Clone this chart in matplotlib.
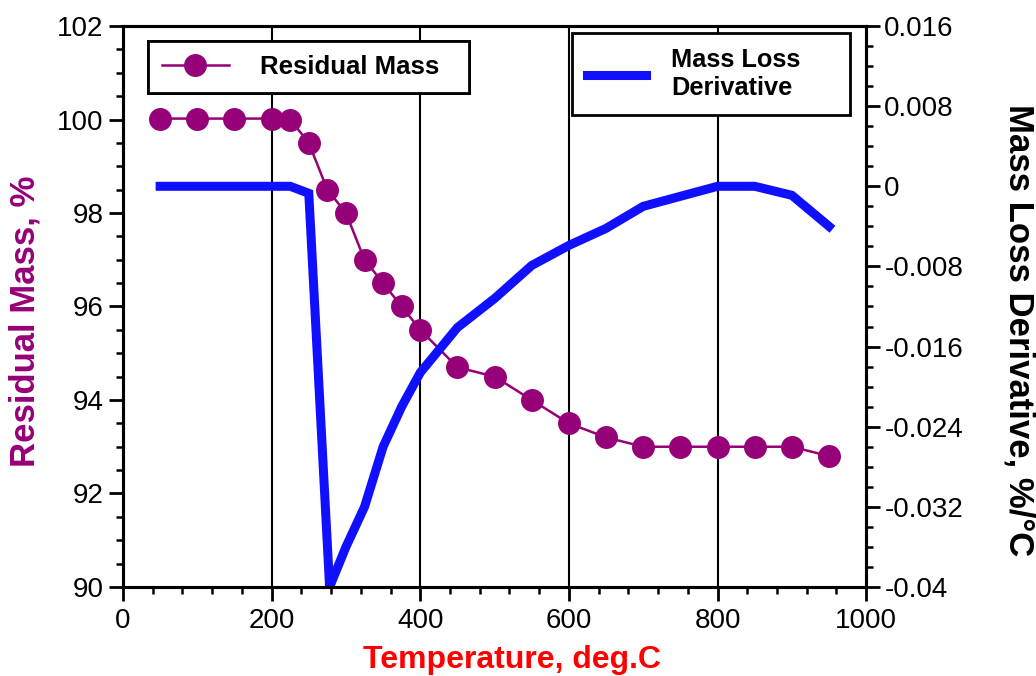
import numpy as np
import matplotlib
matplotlib.use("Agg")
import matplotlib.pyplot as plt
from matplotlib.ticker import MultipleLocator, FuncFormatter

plt.rcParams['font.family'] = ['Liberation Sans', 'DejaVu Sans']
plt.rcParams['axes.unicode_minus'] = False

# Residual mass (left axis)
temp_mass = [50, 100, 150, 200, 225, 250, 275, 300, 325, 350, 375, 400,
             450, 500, 550, 600, 650, 700, 750, 800, 850, 900, 950]
mass = [100.02, 100.02, 100.02, 100.02, 100.0, 99.5, 98.5, 98.0, 97.0, 96.5, 96.0, 95.5,
        94.7, 94.5, 94.0, 93.5, 93.2, 93.0, 93.0, 93.0, 93.0, 93.0, 92.8]

# Mass loss derivative (right axis)
temp_deriv = [50, 100, 150, 200, 225, 250, 278, 300, 325, 350, 375, 400,
              450, 500, 550, 600, 650, 700, 750, 800, 850, 900, 950]
deriv = [0.0, 0.0, 0.0, 0.0, 0.0, -0.0007, -0.0400, -0.0360, -0.0320, -0.0260, -0.0220, -0.0186,
         -0.0141, -0.0112, -0.0079, -0.0059, -0.0042, -0.0020, -0.0010, 0.0, 0.0, -0.0009, -0.0040]

magenta = '#960078'
blue = '#1010ff'

fig = plt.figure(figsize=(10.36, 6.76), dpi=100)
ax = fig.add_axes([0.1187, 0.1317, 0.8361 - 0.1187, 0.9615 - 0.1317])
ax2 = ax.twinx()

for gx in [200, 400, 600, 800]:
    ax.axvline(gx, color='black', lw=1.5, zorder=1)

l1, = ax.plot(temp_mass, mass, color=magenta, lw=1.8, marker='o', ms=15.5,
              markeredgecolor=magenta, zorder=3, label='Residual Mass')
l2, = ax2.plot(temp_deriv, deriv, color=blue, lw=6.5, solid_joinstyle='miter',
               label='Mass Loss\nDerivative')

ax.set_xlim(0, 1000)
ax.set_ylim(90, 102)
ax2.set_ylim(-0.04, 0.016)

ax.xaxis.set_major_locator(MultipleLocator(200))
ax.xaxis.set_minor_locator(MultipleLocator(40))
ax.yaxis.set_major_locator(MultipleLocator(2))
ax.yaxis.set_minor_locator(MultipleLocator(0.5))
ax2.yaxis.set_major_locator(MultipleLocator(0.008))
ax2.yaxis.set_minor_locator(MultipleLocator(0.002))
ax2.yaxis.set_major_formatter(FuncFormatter(lambda v, p: '%g' % round(v, 4)))

for a in (ax, ax2):
    for s in a.spines.values():
        s.set_linewidth(2.2)
    a.tick_params(which='major', direction='out', length=10, width=2, labelsize=20)
    a.tick_params(which='minor', direction='out', length=5, width=1.8)
ax.tick_params(axis='x', which='major', pad=5)
ax.tick_params(axis='y', which='major', pad=4)
ax2.tick_params(axis='y', which='major', pad=3, labelsize=20)

ax.set_xlabel('Temperature, deg.C', color='red', fontsize=23, fontweight='bold', va='center')
ax.xaxis.set_label_coords(0.5236, -0.130)
ax.set_ylabel('Residual Mass, %', color=magenta, fontsize=25, fontweight='bold', va='center')
ax.yaxis.set_label_coords(-0.132, 0.473)
ax2.set_ylabel('Mass Loss Derivative, %/\u00b0C', color='black', fontsize=25,
               fontweight='bold', rotation=-90, va='center')
ax2.yaxis.set_label_coords(1.205, 0.458)

leg1 = ax.legend(handles=[l1], loc='upper left', mode='expand',
                 bbox_to_anchor=(0.0336, 0.872, 0.4321, 0.101),
                 fancybox=False, framealpha=1, edgecolor='black',
                 prop={'size': 18.5, 'weight': 'bold'}, handlelength=2.6,
                 handletextpad=1.2, borderpad=0.55, borderaxespad=0)
leg1.get_frame().set_linewidth(2)
ax.add_artist(leg1)

leg2 = ax2.legend(handles=[l2], loc='upper left', mode='expand',
                  bbox_to_anchor=(0.604, 0.8875, 0.3742, 0.1),
                  fancybox=False, framealpha=1, edgecolor='black',
                  prop={'size': 18.3, 'weight': 'bold'}, handlelength=2.3,
                  handletextpad=1.0, borderpad=0.6, borderaxespad=0,
                  labelspacing=0.2)
leg2.get_frame().set_linewidth(2)

fig.savefig('out.png', dpi=100)
